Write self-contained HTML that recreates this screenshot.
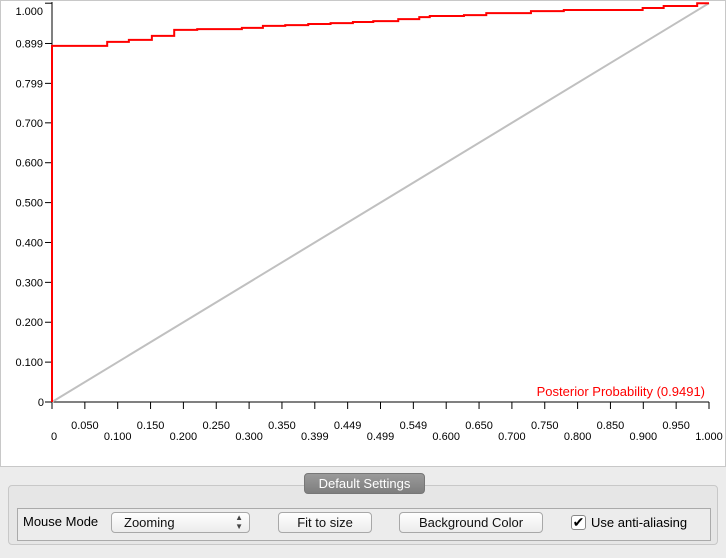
<!DOCTYPE html>
<html><head><meta charset="utf-8"><style>
body{margin:0;width:726px;height:558px;overflow:hidden;background:#ececec;font-family:"Liberation Sans",sans-serif;position:relative}
.btn{position:absolute;top:512px;height:19px;border:1px solid #a8a8a8;border-radius:4px;background:linear-gradient(#fff,#ececec);font-size:13px;line-height:19px;text-align:center;color:#111}
</style></head><body>
<svg width="726" height="467" style="position:absolute;left:0;top:0">
<rect x="0.5" y="0.5" width="725" height="466" fill="#fff" stroke="#c8c8c8"/>
<g id="g" font-family="Liberation Sans, sans-serif" font-size="11" fill="#000"></g>
</svg>
<script>
const xTicks=[0,0.05,0.1,0.15,0.2,0.25,0.3,0.35,0.4,0.45,0.5,0.55,0.6,0.65,0.7,0.75,0.8,0.85,0.9,0.95,1.0];
const xTickLabels=["0","0.050","0.100","0.150","0.200","0.250","0.300","0.350","0.399","0.449","0.499","0.549","0.600","0.650","0.700","0.750","0.800","0.850","0.900","0.950","1.000"];
const yTicks=[0,0.1,0.2,0.3,0.4,0.5,0.6,0.7,0.799,0.899,1.0];
const yTickLabels=["0","0.100","0.200","0.300","0.400","0.500","0.600","0.700","0.799","0.899","1.000"];
const rocX=[0,0.084,0.117,0.152,0.186,0.221,0.289,0.321,0.355,0.390,0.424,0.458,0.489,0.527,0.559,0.575,0.627,0.661,0.729,0.779,0.899,0.931,0.982,1.0];
const rocY=[0.893,0.903,0.908,0.918,0.933,0.935,0.938,0.943,0.945,0.948,0.950,0.953,0.955,0.960,0.965,0.968,0.970,0.975,0.980,0.983,0.988,0.993,1.0,1.0];
const X=v=>52+657*v, Y=v=>402-398.8*v;
const g=document.getElementById('g'),NS='http://www.w3.org/2000/svg';
function mk(t,a,p){const e=document.createElementNS(NS,t);for(const k in a)e.setAttribute(k,a[k]);(p||g).appendChild(e);return e;}
let e=mk('line',{x1:X(0),y1:Y(0),x2:X(1),y2:Y(0),stroke:'#000'});


e=mk('line',{x1:X(0),y1:Y(0),x2:X(0),y2:2,stroke:'#000'});


xTicks.forEach((v,i)=>{
 mk('line',{x1:X(v),y1:402,x2:X(v),y2:409,stroke:'#000'});
 const t=mk('text',{x:X(v)+(i==0?2:0),y:i%2?429:440,'text-anchor':'middle'});
 t.textContent=xTickLabels[i];
 
 
});
yTicks.forEach((v,i)=>{
 mk('line',{x1:45,y1:Y(v),x2:52,y2:Y(v),stroke:'#000'});
 const t=mk('text',{x:i==0?44:43,y:(i==10?Y(v)+12:Y(v)+4),'text-anchor':'end'});
 t.textContent=yTickLabels[i];
 
 
});
e=mk('line',{x1:X(0),y1:Y(0),x2:X(1),y2:Y(1),stroke:'#c0c0c0','stroke-width':2});


let d='M'+X(0)+','+Y(0);
rocX.forEach((x,i)=>{ if(i>0) d+=' H'+X(x); d+=' V'+Y(rocY[i]); });
e=mk('path',{d:d,fill:'none',stroke:'#f00','stroke-width':2});


e=mk('text',{x:705,y:396,'text-anchor':'end',fill:'#f00','font-size':13});
e.textContent='Posterior Probability (0.9491)';


</script>
<div style="position:absolute;left:8px;top:485px;width:708px;height:58px;border:1px solid #c8c8c8;border-radius:4px;background:#e6e6e6"></div>
<div style="position:absolute;left:304px;top:473px;width:119px;height:19px;border-radius:4px;background:linear-gradient(#9a9a9a,#7e7e7e);color:#fff;font-size:13px;line-height:19px;text-align:center;border:1px solid #777">Default Settings</div>
<div style="position:absolute;left:17px;top:508px;width:692px;height:31px;border:1px solid #aaa;background:#ececec"></div>
<div style="position:absolute;left:23px;top:514px;font-size:13px">Mouse Mode</div>
<div class="btn" style="left:111px;width:139px;text-align:left;padding-left:12px;box-sizing:border-box;height:21px">Zooming<span style="position:absolute;right:6px;top:0;font-size:8px;line-height:9px;color:#444">▲<br>▼</span></div>
<div class="btn" style="left:278px;width:92px">Fit to size</div>
<div class="btn" style="left:399px;width:142px">Background Color</div>
<div style="position:absolute;left:571px;top:515px;width:13px;height:13px;border:1px solid #888;border-radius:3px;background:#fff;font-size:14px;line-height:12px;text-align:center">✔</div>
<div style="position:absolute;left:591px;top:515px;font-size:13px">Use anti-aliasing</div>
</body></html>
